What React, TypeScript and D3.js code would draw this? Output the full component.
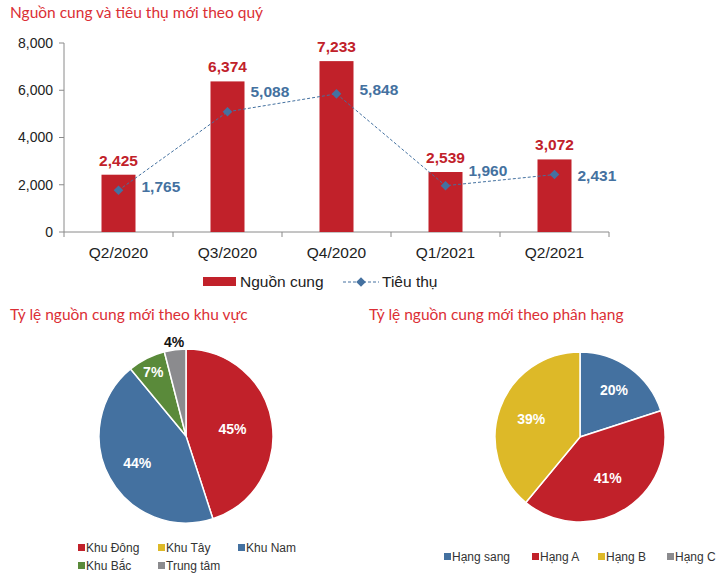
import React from 'react';
import * as d3 from 'd3';

// Quarterly new supply (bars) and absorption (line)
const quarters = ['Q2/2020', 'Q3/2020', 'Q4/2020', 'Q1/2021', 'Q2/2021'];
const supply = [2425, 6374, 7233, 2539, 3072];
const absorption = [1765, 5088, 5848, 1960, 2431];
const yTicks = [0, 2000, 4000, 6000, 8000];

// Share of new supply by area
const areaNames = ['Khu Đông', 'Khu Tây', 'Khu Nam', 'Khu Bắc', 'Trung tâm'];
const areaShares = [45, 0, 44, 7, 4];

// Share of new supply by grade
const gradeNames = ['Hạng sang', 'Hạng A', 'Hạng B', 'Hạng C'];
const gradeShares = [20, 41, 39, 0];

const RED = '#C1212A';
const BLUE = '#4471A0';
const GREEN = '#5A8A3A';
const YELLOW = '#DDB928';
const GRAY = '#8B8B8E';
const TITLE = '#DB2F35';
const FONT = '"Liberation Sans", Arial, sans-serif';
const TITLE_FONT = 'Lato, "Open Sans", sans-serif';

const areaColors = [RED, YELLOW, BLUE, GREEN, GRAY];
const gradeColors = [BLUE, RED, YELLOW, GRAY];

// label nudges for the absorption values (px, vertical)
const lineLabelDy = [-4, -20, -4, -15, 1];

function BarLine() {
  const x = d3.scaleBand().domain(quarters).range([64, 609]);
  const y = d3.scaleLinear().domain([0, 8000]).range([232, 43]);
  const barW = 34;
  const cx = (q: string) => (x(q) ?? 0) + x.bandwidth() / 2;
  const fmt = d3.format(',');

  const line = d3.line<number>()
    .x((_, i) => cx(quarters[i]))
    .y(d => y(d));

  const diamond = d3.symbol(d3.symbolSquare, 46)();

  return (
    <g fontFamily={FONT}>
      <text x={10} y={18} fill={TITLE} fontFamily={TITLE_FONT} fontSize={15.5}>
        Nguồn cung và tiêu thụ mới theo quý
      </text>

      {/* y axis */}
      <line x1={64} x2={64} y1={y(8000)} y2={y(0)} stroke="#8a8a8a" />
      {yTicks.map(t => (
        <g key={t}>
          <line x1={59} x2={64} y1={y(t)} y2={y(t)} stroke="#8a8a8a" />
          <text x={53} y={y(t)} dy="0.35em" textAnchor="end" fontSize={14} fill="#222">
            {fmt(t)}
          </text>
        </g>
      ))}

      {/* x axis */}
      <line x1={64} x2={609} y1={y(0)} y2={y(0)} stroke="#8a8a8a" />
      {[...quarters.map(q => x(q) ?? 0), 609].map((tx, i) => (
        <line key={i} x1={tx} x2={tx} y1={y(0)} y2={y(0) + 5} stroke="#8a8a8a" />
      ))}
      {quarters.map(q => (
        <text key={q} x={cx(q)} y={257.5} textAnchor="middle" fontSize={15.5} fill="#222">
          {q}
        </text>
      ))}

      {/* bars */}
      {supply.map((v, i) => (
        <g key={i}>
          <rect x={cx(quarters[i]) - barW / 2} y={y(v)} width={barW} height={y(0) - y(v)} fill={RED} />
          <text x={cx(quarters[i])} y={y(v) - 9} textAnchor="middle" fontSize={15.5}
            fontWeight="bold" fill={RED}>
            {fmt(v)}
          </text>
        </g>
      ))}

      {/* absorption line */}
      <path d={line(absorption) ?? ''} fill="none" stroke={BLUE} strokeWidth={1}
        strokeDasharray="3,2" />
      {absorption.map((v, i) => (
        <g key={i}>
          <path d={diamond ?? ''} fill={BLUE}
            transform={`translate(${cx(quarters[i])},${y(v)}) rotate(45)`} />
          <text x={cx(quarters[i]) + 23} y={y(v) + lineLabelDy[i]} dy="0.35em" fontSize={15.5}
            fontWeight="bold" fill={BLUE}>
            {fmt(v)}
          </text>
        </g>
      ))}

      {/* legend */}
      <rect x={203} y={277} width={33} height={9} fill={RED} />
      <text x={240} y={282} dy="0.35em" fontSize={15.5} fill="#222">Nguồn cung</text>
      <line x1={343} x2={379} y1={282} y2={282} stroke={BLUE} strokeDasharray="3,2" />
      <path d={diamond ?? ''} fill={BLUE} transform="translate(361,282) rotate(45)" />
      <text x={382} y={282} dy="0.35em" fontSize={15.5} fill="#222">Tiêu thụ</text>
    </g>
  );
}

interface PieProps {
  title: string;
  titleX: number;
  names: string[];
  values: number[];
  colors: string[];
  cx: number;
  cy: number;
  r: number;
  labelColors: string[];
  labelRadius: number[];
  legend: { x: number; y: number }[];
}

function Pie(p: PieProps) {
  const pie = d3.pie<number>().sort(null).value(d => d);
  const arcs = pie(p.values);
  const arc = d3.arc<d3.PieArcDatum<number>>().innerRadius(0).outerRadius(p.r);

  return (
    <g fontFamily={FONT}>
      <text x={p.titleX} y={320} fill={TITLE} fontFamily={TITLE_FONT} fontSize={15.5}>
        {p.title}
      </text>
      <g transform={`translate(${p.cx},${p.cy})`}>
        {arcs.map((a, i) => a.value > 0 && (
          <path key={i} d={arc(a) ?? ''} fill={p.colors[i]} stroke="#fff" strokeWidth={1.5} />
        ))}
        {arcs.map((a, i) => {
          if (a.value <= 0) return null;
          const lr = p.r * p.labelRadius[i];
          const [lx, ly] = d3.arc<d3.PieArcDatum<number>>()
            .innerRadius(lr).outerRadius(lr).centroid(a);
          return (
            <text key={i} x={lx} y={ly} dy="0.35em" textAnchor="middle"
              fontSize={14} fontWeight="bold" fill={p.labelColors[i]}>
              {a.value}%
            </text>
          );
        })}
      </g>
      {p.names.map((n, i) => (
        <g key={n}>
          <rect x={p.legend[i].x} y={p.legend[i].y - 4} width={7} height={7} fill={p.colors[i]} />
          <text x={p.legend[i].x + 8} y={p.legend[i].y} dy="0.35em" fontSize={12} fill="#333">
            {n}
          </text>
        </g>
      ))}
    </g>
  );
}

export default function App() {
  return (
    <div style={{ position: 'absolute', left: 0, top: 0 }}>
      <svg width={725} height={577} style={{ display: 'block', background: '#fff' }}>
        <BarLine />
        <Pie
          title="Tỷ lệ nguồn cung mới theo khu vực"
          titleX={10}
          names={areaNames}
          values={areaShares}
          colors={areaColors}
          cx={186}
          cy={436}
          r={87}
          labelColors={['#fff', '#fff', '#fff', '#fff', '#111']}
          labelRadius={[0.54, 0.5, 0.64, 0.83, 1.09]}
          legend={[
            { x: 78, y: 548 }, { x: 158, y: 548 }, { x: 238, y: 548 },
            { x: 78, y: 566 }, { x: 158, y: 566 },
          ]}
        />
        <Pie
          title="Tỷ lệ nguồn cung mới theo phân hạng"
          titleX={369}
          names={gradeNames}
          values={gradeShares}
          colors={gradeColors}
          cx={580}
          cy={437}
          r={85}
          labelColors={['#fff', '#fff', '#fff', '#fff']}
          labelRadius={[0.68, 0.58, 0.61, 0.5]}
          legend={[
            { x: 444, y: 557 }, { x: 532, y: 557 }, { x: 598, y: 557 }, { x: 667, y: 557 },
          ]}
        />
      </svg>
    </div>
  );
}
